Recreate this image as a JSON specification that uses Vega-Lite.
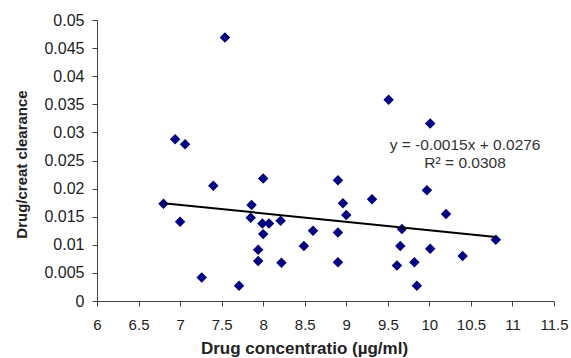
{
  "$schema": "https://vega.github.io/schema/vega-lite/v6.json",
  "width": 457,
  "height": 281,
  "autosize": {"type": "none"},
  "padding": {"left": 97, "top": 20, "right": 17, "bottom": 57},
  "background": "white",
  "config": {
    "view": {"stroke": null},
    "font": "Liberation Sans",
    "axis": {
      "domainColor": "#404040",
      "tickColor": "#404040",
      "labelColor": "#222222",
      "titleColor": "#222222",
      "labelFont": "Liberation Sans",
      "titleFont": "Liberation Sans",
      "titleFontWeight": "bold",
      "grid": false,
      "tickSize": 5,
      "domainWidth": 1,
      "tickWidth": 1
    }
  },
  "datasets": {
    "points": [
      {"conc": 7.54, "ratio": 0.0469},
      {"conc": 6.94, "ratio": 0.0288},
      {"conc": 7.06, "ratio": 0.0279},
      {"conc": 9.51, "ratio": 0.0358},
      {"conc": 10.01, "ratio": 0.0316},
      {"conc": 6.80, "ratio": 0.0173},
      {"conc": 7.00, "ratio": 0.0141},
      {"conc": 7.26, "ratio": 0.0042},
      {"conc": 7.40, "ratio": 0.0205},
      {"conc": 7.71, "ratio": 0.0027},
      {"conc": 7.86, "ratio": 0.0171},
      {"conc": 7.85, "ratio": 0.0148},
      {"conc": 7.94, "ratio": 0.0091},
      {"conc": 7.94, "ratio": 0.0071},
      {"conc": 8.00, "ratio": 0.0218},
      {"conc": 7.99, "ratio": 0.0138},
      {"conc": 8.07, "ratio": 0.0138},
      {"conc": 8.00, "ratio": 0.0119},
      {"conc": 8.21, "ratio": 0.0143},
      {"conc": 8.22, "ratio": 0.0068},
      {"conc": 8.49, "ratio": 0.0098},
      {"conc": 8.60, "ratio": 0.0125},
      {"conc": 8.90, "ratio": 0.0215},
      {"conc": 8.90, "ratio": 0.0122},
      {"conc": 8.90, "ratio": 0.0069},
      {"conc": 8.96, "ratio": 0.0174},
      {"conc": 9.00, "ratio": 0.0153},
      {"conc": 9.31, "ratio": 0.0181},
      {"conc": 9.97, "ratio": 0.0197},
      {"conc": 9.67, "ratio": 0.0128},
      {"conc": 9.65, "ratio": 0.0098},
      {"conc": 10.01, "ratio": 0.0093},
      {"conc": 10.20, "ratio": 0.0155},
      {"conc": 9.61, "ratio": 0.0063},
      {"conc": 9.82, "ratio": 0.0069},
      {"conc": 9.85, "ratio": 0.0027},
      {"conc": 10.40, "ratio": 0.0080},
      {"conc": 10.80, "ratio": 0.0109}
    ],
    "trend": [
      {"conc": 6.8, "ratio": 0.0174},
      {"conc": 10.8, "ratio": 0.0114}
    ],
    "labels": [
      {"conc": 10.43, "ratio": 0.02687, "text": "y = -0.0015x + 0.0276"},
      {"conc": 10.43, "ratio": 0.02367, "text": "R² = 0.0308"}
    ]
  },
  "layer": [
    {
      "data": {"name": "points"},
      "mark": {"type": "point", "shape": "diamond", "filled": true, "size": 110, "color": "#000080", "opacity": 1},
      "encoding": {
        "x": {
          "field": "conc", "type": "quantitative",
          "scale": {"domain": [6, 11.5], "nice": false, "zero": false},
          "axis": {
            "values": [6, 6.5, 7, 7.5, 8, 8.5, 9, 9.5, 10, 10.5, 11, 11.5], "tickCount": 50,
            "labelExpr": "format(datum.value, '~g')", "labelOverlap": false, "labelFlush": false,
            "labelFontSize": 15, "labelPadding": 11,
            "title": "Drug concentratio (µg/ml)", "titleFontSize": 17,
            "titleX": 207, "titleY": 52, "titleAlign": "center", "titleBaseline": "alphabetic"
          }
        },
        "y": {
          "field": "ratio", "type": "quantitative",
          "scale": {"domain": [0, 0.05], "nice": false},
          "axis": {
            "values": [0, 0.005, 0.01, 0.015, 0.02, 0.025, 0.03, 0.035, 0.04, 0.045, 0.05], "tickCount": 50,
            "labelExpr": "format(datum.value, '~g')", "labelOverlap": false, "labelFlush": false,
            "labelFontSize": 16, "labelPadding": 8,
            "title": "Drug/creat clearance", "titleFontSize": 15,
            "titleX": -71, "titleY": 144, "titleAngle": 270, "titleAlign": "center", "titleBaseline": "alphabetic"
          }
        }
      }
    },
    {
      "data": {"name": "trend"},
      "mark": {"type": "line", "color": "#000000", "strokeWidth": 2},
      "encoding": {
        "x": {"field": "conc", "type": "quantitative"},
        "y": {"field": "ratio", "type": "quantitative"}
      }
    },
    {
      "data": {"name": "labels"},
      "mark": {"type": "text", "fontSize": 15.5, "color": "#333333", "align": "center", "baseline": "alphabetic", "font": "Liberation Sans"},
      "encoding": {
        "x": {"field": "conc", "type": "quantitative"},
        "y": {"field": "ratio", "type": "quantitative"},
        "text": {"field": "text"}
      }
    }
  ]
}
